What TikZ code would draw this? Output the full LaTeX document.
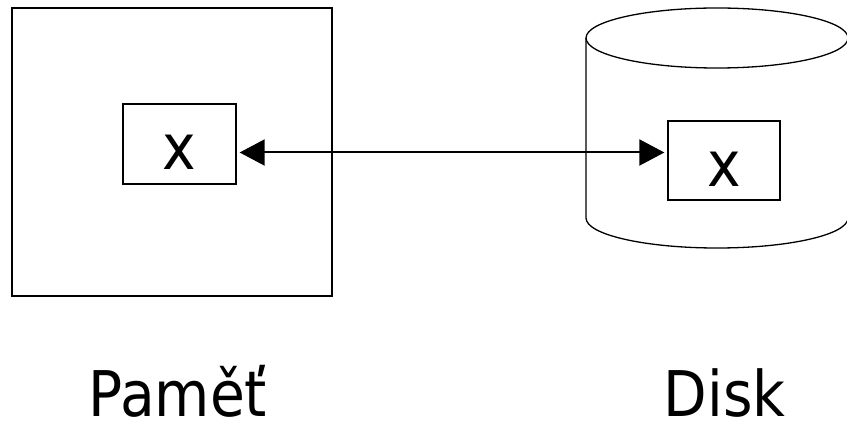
\documentclass[tikz,border=0pt]{standalone}
\usepackage{fontspec}
\setmainfont{DejaVu Sans Condensed}
\usepackage{tikz}
\usetikzlibrary{arrows.meta,positioning}

\begin{document}
\begin{tikzpicture}[
                    x=1pt, y=1pt,
                    big/.style={font=\fontsize{63pt}{70pt}\selectfont},
                    frame/.style={draw, rectangle, line width=1.3pt, inner sep=0pt},
                    cell/.style={draw, rectangle, line width=1.3pt, inner sep=0pt, fill=white,
                                 minimum width=113pt, minimum height=80pt,
                                 text height=52pt, text depth=0pt, big},
                    link/.style={{Triangle[length=25pt,width=26pt]}-{Triangle[length=25pt,width=26pt]},
                                 line width=2pt, shorten <=3pt, shorten >=3pt},
                    caption/.style={anchor=base, inner sep=0pt, big}
                ]
                    \useasboundingbox (0,0) rectangle (847,421);

                    % Memory
                    \node[frame, minimum width=320pt, minimum height=288pt] (Mem) at (172,269) {};
                    \node[cell] (MemX) at (179.5,277) {x};

                    % Disk
                    \draw[line width=1.3pt] (586,383) arc[start angle=180, end angle=-180, x radius=131, y radius=30];
                    \draw[line width=1.3pt] (586,383) -- (586,203)
                        arc[start angle=180, end angle=360, x radius=131, y radius=30] -- (848,383);
                    \node[cell, minimum width=112pt, minimum height=79pt] (DiskX) at (724,260.5) {x};

                    % Transfer
                    \coordinate (lane) at (0,268.5);
                    \draw[link] (MemX.east |- lane) -- (DiskX.west |- lane);

                    % Labels
                    \node[caption] (MemLabel) at (178,5) {Paměť};
                    \node[caption] (DiskLabel) at (724.5,5) {Disk};
                \end{tikzpicture}
\end{document}
